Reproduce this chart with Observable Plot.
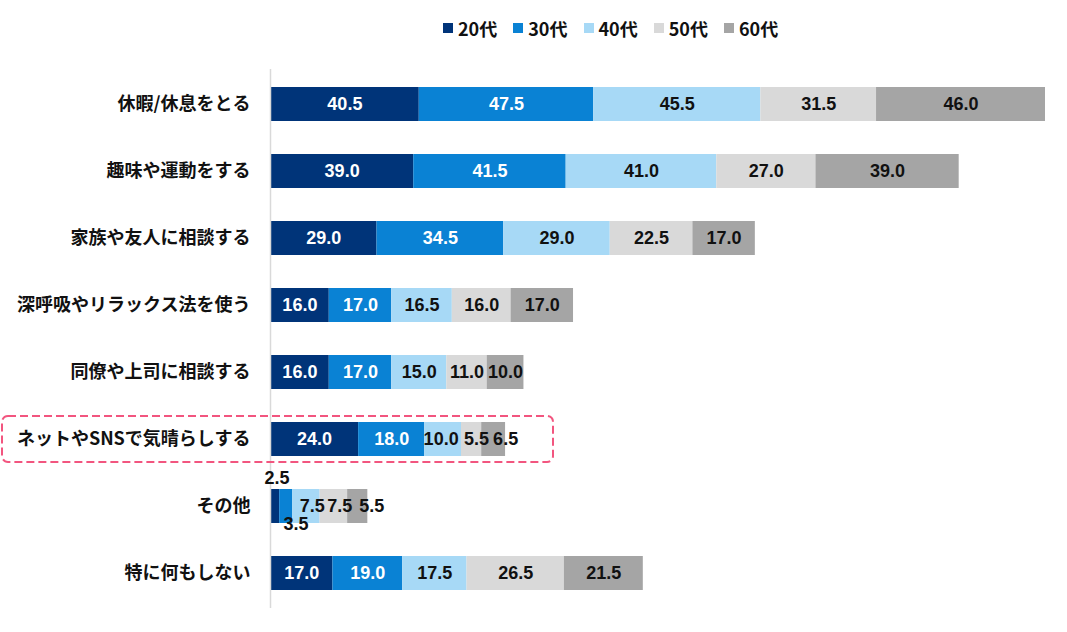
<!DOCTYPE html>
<html>
<head>
<meta charset="utf-8">
<script src="https://cdn.jsdelivr.net/npm/d3@7"></script>
<script src="https://cdn.jsdelivr.net/npm/@observablehq/plot@0.6"></script>
<style>
  html, body { margin: 0; padding: 0; background: #fff; }
  #wrap { position: relative; width: 1067px; height: 632px; font-family: "Noto Sans CJK JP", "Noto Sans", sans-serif; }
  #legend { position: absolute; top: 15px; left: 443px; display: flex; font-weight: bold; font-size: 18px; color: #111; z-index: 2; }
  .item { display: flex; align-items: center; margin-right: 16px; }
  .sw { width: 10px; height: 10px; margin-right: 5px; }
</style>
</head>
<body>
<div id="wrap">
  <div id="legend"></div>
  <div id="chart"></div>
</div>
<script>
const categories = ["休暇/休息をとる", "趣味や運動をする", "家族や友人に相談する", "深呼吸やリラックス法を使う", "同僚や上司に相談する", "ネットやSNSで気晴らしする", "その他", "特に何もしない"];
const ages = ["20代", "30代", "40代", "50代", "60代"];
const colors = ["#003479", "#0A82D4", "#A7D9F6", "#D9D9D9", "#A5A5A5"];
const v20 = [40.5, 39.0, 29.0, 16.0, 16.0, 24.0, 2.5, 17.0];
const v30 = [47.5, 41.5, 34.5, 17.0, 17.0, 18.0, 3.5, 19.0];
const v40 = [45.5, 41.0, 29.0, 16.5, 15.0, 10.0, 7.5, 17.5];
const v50 = [31.5, 27.0, 22.5, 16.0, 11.0, 5.5, 7.5, 26.5];
const v60 = [46.0, 39.0, 17.0, 17.0, 10.0, 6.5, 5.5, 21.5];
const highlighted = "ネットやSNSで気晴らしする";

const series = [v20, v30, v40, v50, v60];
const data = [];
categories.forEach((c, i) => {
  ages.forEach((a, j) => data.push({cat: c, age: a, value: series[j][i]}));
});

// label nudges for crowded small segments: [dx, dy]
function offset(d) {
  if (d.cat === "その他") {
    if (d.age === "20代") return [2, -28];
    if (d.age === "30代") return [10, 18];
    if (d.age === "60代") return [14, 0];
    return [6, 0];
  }
  if (d.cat === highlighted) {
    if (d.age === "40代") return [-2, 0];
    if (d.age === "50代") return [5, 0];
    if (d.age === "60代") return [12, 0];
  }
  return [0, 0];
}
const lightText = new Set(["20代", "30代"]);
function textFill(d) {
  const [, dy] = offset(d);
  return lightText.has(d.age) && dy === 0 ? "#fff" : "#111";
}
const fmt = d3.format(".1f");
const stackOpts = (extra) => Plot.stackX({x: "value", y: "cat", z: "age", order: ages, ...extra});

const groups = new Map();
data.forEach(d => {
  const [dx, dy] = offset(d);
  const key = [dx, dy, textFill(d)].join("|");
  if (!groups.has(key)) groups.set(key, {dx, dy, fill: textFill(d)});
});
const labelMarks = [...groups.values()].map(g =>
  Plot.text(data, stackOpts({
    text: d => {
      const [dx, dy] = offset(d);
      return dx === g.dx && dy === g.dy && textFill(d) === g.fill ? fmt(d.value) : null;
    },
    fill: g.fill, dx: g.dx, dy: g.dy,
    fontSize: 18, fontWeight: "bold", fontFamily: "Liberation Sans"
  }))
);

const plot = Plot.plot({
  width: 1067,
  height: 632,
  marginTop: 69,
  marginBottom: 24,
  marginLeft: 270,
  marginRight: 22,
  style: {background: "#fff", color: "#000", overflow: "visible"},
  x: {axis: null},
  y: {domain: categories, paddingInner: 0.5, paddingOuter: 0.25, label: null},
  color: {domain: ages, range: colors},
  marks: [
    Plot.barX(data, stackOpts({fill: "age"})),
    Plot.ruleX([0], {stroke: "#D9D9D9", strokeWidth: 1.5}),
    Plot.axisY({tickSize: 0, tickPadding: 20, fontSize: 18, fontWeight: "bold", fill: "#111", fontFamily: "Noto Sans CJK JP", label: null}),
    ...labelMarks
  ]
});
document.getElementById("chart").appendChild(plot);

// highlight box around the emphasized row
const yScale = plot.scale("y");
const yc = yScale.apply(highlighted) + yScale.bandwidth / 2;
d3.select(plot).append("rect")
  .attr("x", 2).attr("y", yc - 23)
  .attr("width", 551).attr("height", 46)
  .attr("rx", 6)
  .attr("fill", "none")
  .attr("stroke", "#F2557F")
  .attr("stroke-width", 2)
  .attr("stroke-dasharray", "8,4");

// legend
const lg = d3.select("#legend");
ages.forEach((a, i) => {
  const it = lg.append("div").attr("class", "item");
  it.append("div").attr("class", "sw").style("background", colors[i]);
  it.append("span").text(a);
});
</script>
</body>
</html>
